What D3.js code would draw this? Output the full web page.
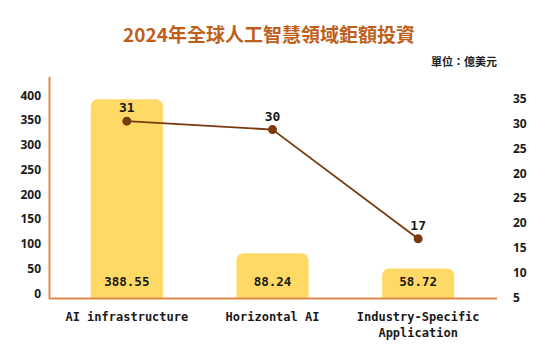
<!DOCTYPE html>
<html><head><meta charset="utf-8">
<script src="https://cdn.jsdelivr.net/npm/d3@7"></script>
<style>body{margin:0;background:#fff}</style>
</head><body>
<svg id="c" width="554" height="355"></svg>
<script>
const categories = ["AI infrastructure", "Horizontal AI", "Industry-Specific Application"];
const categoryLines = [["AI infrastructure"], ["Horizontal AI"], ["Industry-Specific", "Application"]];
const amounts = [388.55, 88.24, 58.72];
const counts = [31, 30, 17];
const leftTicks = [0, 50, 100, 150, 200, 250, 300, 350, 400];
const rightTickLabels = ["5", "10", "15", "20", "25", "20", "25", "30", "35"];
const title = "2024年全球人工智慧領域鉅額投資";
const unit = "單位：億美元";

const svg = d3.select("#c");
const axisColor = "#E08A4A", barColor = "#FFD966", lineColor = "#7A3A0E", titleColor = "#C05F1C";
const mono = "'DejaVu Sans Mono', monospace";
const sans = "'Noto Sans', 'Open Sans', sans-serif";
const cjk = "'Noto Sans CJK TC', 'Noto Sans CJK SC', sans-serif";

const x = d3.scaleBand().domain(categories).range([54, 491]);
const y = d3.scaleLinear().domain([0, 400]).range([298.5, 93.5]);
const yLine = d3.scaleLinear().domain([10, 34]).range([297.5, 96]);
const yLeftLabel = d3.scaleLinear().domain([0, 400]).range([293.5, 95.5]);
const yRightLabel = d3.scaleLinear().domain([0, rightTickLabels.length - 1]).range([297.5, 99]);

svg.append("text").attr("x", 269).attr("y", 42).attr("text-anchor", "middle")
  .attr("font-family", cjk).attr("font-weight", 700).attr("font-size", 19)
  .attr("fill", titleColor).text(title);
svg.append("text").attr("x", 497).attr("y", 66).attr("text-anchor", "end")
  .attr("font-family", cjk).attr("font-weight", 700).attr("font-size", 11)
  .attr("fill", "#222").text(unit);

const bw = x.bandwidth() * 0.495, r = 8;
categories.forEach((c, i) => {
  const cx = x(c) + x.bandwidth() / 2;
  const x0 = cx - bw / 2, x1 = cx + bw / 2, yt = y(amounts[i]), yb = y(0);
  svg.append("path").attr("fill", barColor)
    .attr("d", `M${x0},${yb}V${yt + r}Q${x0},${yt} ${x0 + r},${yt}H${x1 - r}Q${x1},${yt} ${x1},${yt + r}V${yb}Z`);
  svg.append("text").attr("x", cx).attr("y", 286).attr("text-anchor", "middle")
    .attr("font-family", mono).attr("font-weight", 700).attr("font-size", 12.5)
    .attr("fill", "#1a1a1a").text(amounts[i].toFixed(2));
  categoryLines[i].forEach((t, j) => {
    svg.append("text").attr("x", cx).attr("y", 321 + j * 16).attr("text-anchor", "middle")
      .attr("font-family", mono).attr("font-weight", 700).attr("font-size", 12)
      .attr("fill", "#1a1a1a").text(t);
  });
});

// axes
svg.append("line").attr("x1", 49.5).attr("x2", 49.5).attr("y1", 77).attr("y2", 299)
  .attr("stroke", axisColor).attr("stroke-width", 2);
svg.append("line").attr("x1", 49).attr("x2", 497).attr("y1", 298.5).attr("y2", 298.5)
  .attr("stroke", axisColor).attr("stroke-width", 2);

leftTicks.forEach(v => {
  svg.append("text").attr("x", 41).attr("y", yLeftLabel(v)).attr("dy", "0.35em")
    .attr("text-anchor", "end").attr("font-family", sans).attr("font-weight", 700)
    .attr("font-size", 12).attr("fill", "#1a1a1a").text(v);
});
rightTickLabels.forEach((t, i) => {
  svg.append("text").attr("x", 513).attr("y", yRightLabel(i)).attr("dy", "0.35em")
    .attr("text-anchor", "start").attr("font-family", sans).attr("font-weight", 700)
    .attr("font-size", 12).attr("fill", "#1a1a1a").text(t);
});

// line
const pts = categories.map((c, i) => [x(c) + x.bandwidth() / 2, yLine(counts[i])]);
svg.append("path").attr("d", d3.line()(pts)).attr("fill", "none")
  .attr("stroke", lineColor).attr("stroke-width", 1.8);
pts.forEach((p, i) => {
  svg.append("circle").attr("cx", p[0]).attr("cy", p[1]).attr("r", 4.5).attr("fill", lineColor);
  svg.append("text").attr("x", p[0]).attr("y", p[1] - 9).attr("text-anchor", "middle")
    .attr("font-family", mono).attr("font-weight", 700).attr("font-size", 13)
    .attr("fill", "#1a1a1a").text(counts[i]);
});
</script>
</body></html>
